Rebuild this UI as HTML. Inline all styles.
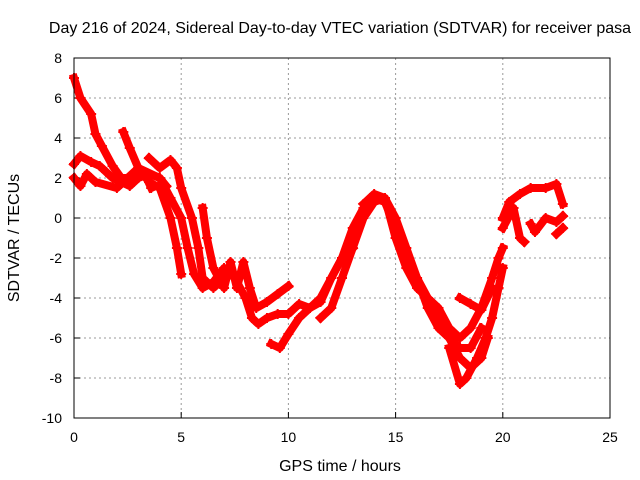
<!DOCTYPE html>
<html><head><meta charset="utf-8"><style>
body{margin:0;background:#fff}
svg{display:block;font-family:"Liberation Sans",sans-serif}
</style></head><body>
<svg id="chart" width="640" height="480" viewBox="0 0 640 480">
<rect width="640" height="480" fill="#fff"/>
<text x="340" y="33" font-size="16" text-anchor="middle">Day 216 of 2024, Sidereal Day-to-day VTEC variation (SDTVAR) for receiver pasa</text>
<text x="340" y="471" font-size="16" text-anchor="middle">GPS time / hours</text>
<text transform="translate(19,238) rotate(-90)" font-size="16" text-anchor="middle">SDTVAR / TECUs</text>
<g id="grid"></g>
<g id="axes"></g>
<g id="series"></g>
<rect x="74" y="58" width="536" height="360" fill="none" stroke="#000" stroke-width="1"/>
</svg>
<script>
const xTicks=[0,5,10,15,20,25];
const yTicks=[-10,-8,-6,-4,-2,0,2,4,6,8];
const t1=[[0,7],[0.3,6],[0.8,5.2],[1,4.2],[1.3,3.6],[1.8,2.6],[2.2,2],[2.8,2],[3.3,2.2],[3.6,1.5]];
const t2=[[0,2.7],[0.3,3.1],[0.8,2.8],[1.2,2.6],[1.5,2.3],[1.8,2],[2.2,1.8],[2.6,1.6],[3,2],[3.5,2.2],[4,2],[4.3,1.6]];
const t3=[[2.3,4.3],[2.6,3.5],[3,2.5],[3.5,1.8],[4,1.5],[4.5,0],[4.8,-1.5],[5,-2.8]];
const t4=[[3.5,3],[4,2.5],[4.5,2.9],[4.8,2.5],[5,1.5],[5.5,0],[5.8,-1.5],[6,-3],[6.5,-3.5],[7,-3]];
const t5=[[0,2],[0.3,1.6],[0.6,2.2],[1,1.8],[2,1.5],[3,2.5],[4,2],[4.5,1],[5,0],[5.3,-1.5],[5.6,-2.8],[6,-3.5],[6.5,-3.2],[7,-2.5],[7.5,-3],[8,-4],[8.3,-5],[8.6,-5.3],[9,-5],[9.5,-4.8],[10,-4.8],[10.5,-4.3],[11,-4.5],[11.5,-4.2],[12,-3],[12.5,-2],[13,-1.5]];
const t6=[[6,0.5],[6.2,-1],[6.5,-2.5],[7,-3.5],[7.3,-2.2],[7.6,-3.5],[7.9,-2.2],[8.2,-3.5],[8.5,-4.5],[9,-4.2],[9.5,-3.8],[10,-3.4]];
const t7=[[9.2,-6.3],[9.6,-6.5],[10,-5.8],[10.5,-5],[11,-4.5],[11.5,-4],[12,-3],[12.5,-2],[13,-0.5],[13.5,0.5],[14,1],[14.5,0.8],[15,-0.5],[15.5,-2],[16,-3],[16.5,-4],[17,-5],[17.5,-6],[18,-7],[18.5,-7.5],[19,-7],[19.3,-6]];
const t8=[[11.5,-5],[12,-4.5],[12.5,-3],[13,-1.5],[13.5,0],[14,0.8],[14.5,1],[15,0],[15.5,-1.5],[16,-3],[16.5,-4.5],[17,-5.5],[17.5,-6],[18,-6.5],[18.5,-6.5],[19,-5.5]];
const t9=[[13.5,0.7],[14,1.2],[14.5,1],[15,-1],[15.5,-2.5],[16,-3.5],[16.5,-4],[17,-4.5],[17.5,-5.5],[18,-6],[18.5,-5.5],[19,-4.5],[19.5,-3],[19.8,-2],[20,-1.5]];
const t10=[[18,-4],[18.5,-4.3],[19,-4.6],[19.5,-3.5]];
const t11=[[17.5,-6.5],[18,-8.3],[18.3,-8],[18.8,-7],[19.2,-6],[19.5,-5],[19.8,-3.5],[20,-2.5]];
const t12=[[20,0],[20.3,0.8],[20.8,1.2],[21.3,1.5],[22,1.5],[22.5,1.7],[22.8,0.7]];
const t13=[[20,-0.5],[20.5,0.5],[20.8,-1],[21,-1.2]];
const t14=[[21.3,-0.3],[21.5,-0.7],[22,0],[22.5,-0.2],[22.8,0.1]];
const t15=[[22.5,-0.8],[22.8,-0.5]];
const tracks=[t1,t2,t3,t4,t5,t6,t7,t8,t9,t10,t11,t12,t13,t14,t15];
const NS="http://www.w3.org/2000/svg";
const X=h=>74+h*536/25, Y=v=>58+(8-v)*20;
const grid=document.getElementById('grid'),axes=document.getElementById('axes'),ser=document.getElementById('series');
function mk(tag,at,p){const e=document.createElementNS(NS,tag);for(const k in at)e.setAttribute(k,at[k]);p.appendChild(e);return e;}
xTicks.forEach(t=>{
 if(t>0&&t<25){const g=mk('line',{x1:X(t),x2:X(t),y1:58,y2:418,stroke:'#999','stroke-dasharray':'2,3'},grid);
 
 }
 const tk=mk('line',{x1:X(t),x2:X(t),y1:418,y2:412,stroke:'#000'},axes);
 
 
 const l=mk('text',{x:X(t),y:442,'font-size':14,'text-anchor':'middle'},axes);l.textContent=t;
 
 
});
yTicks.forEach(t=>{
 if(t>-10&&t<8){const g=mk('line',{x1:74,x2:610,y1:Y(t),y2:Y(t),stroke:'#999','stroke-dasharray':'2,3'},grid);
 
 }
 const tk=mk('line',{x1:74,x2:80,y1:Y(t),y2:Y(t),stroke:'#000'},axes);
 
 
 const l=mk('text',{x:62,y:Y(t)+5,'font-size':14,'text-anchor':'end'},axes);l.textContent=t;
 
 
});
tracks.forEach((tr,i)=>{
 const pl=mk('polyline',{points:tr.map(p=>X(p[0])+','+Y(p[1])).join(' '),fill:'none',stroke:'#f00','stroke-width':8,'stroke-linejoin':'round','stroke-linecap':'square'},ser);
 
 
 tr.forEach(p=>{
  const m=mk('path',{d:`M${X(p[0])-5},${Y(p[1])}h10M${X(p[0])},${Y(p[1])-5}v10`,stroke:'#f00','stroke-width':2},ser);
  
  
 });
});
</script>
</body></html>
